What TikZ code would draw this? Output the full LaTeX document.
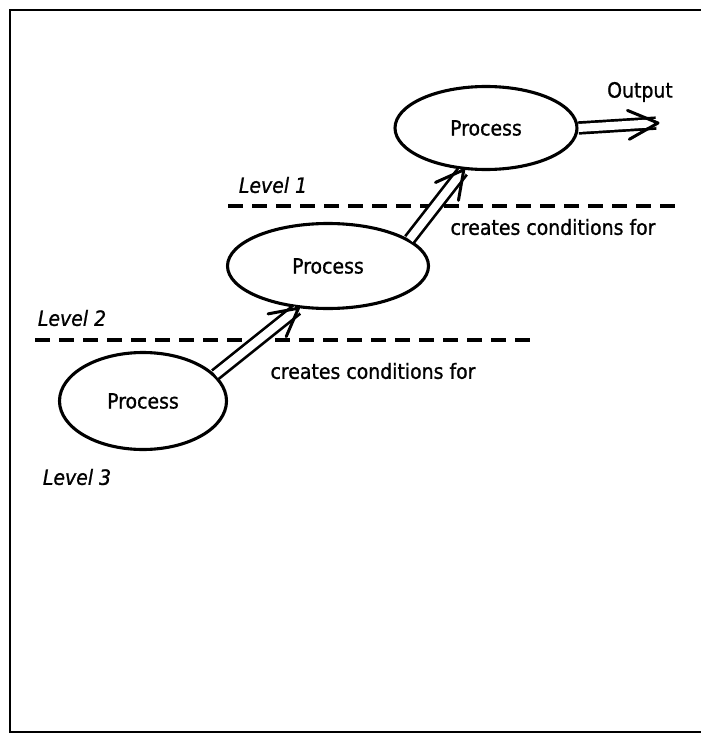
\documentclass[tikz,border=0pt]{standalone}
\usepackage{fontspec}
\setmainfont[FakeBold=1.0]{DejaVu Sans Condensed}
\usetikzlibrary{shapes.geometric,calc}

\tikzset{
  hand/.style={font=\fontsize{21}{24}\selectfont},
  process/.style={ellipse, draw, line width=3.1pt, inner sep=0pt, hand},
  label/.style={inner sep=0pt, hand},
  shaft/.style={double, double distance=8pt, line width=2.7pt, shorten >=2pt},
  barb/.style={line width=3pt, line cap=round, line join=round},
  levelline/.style={line width=3.2pt, dash pattern=on 15pt off 9pt},
  frame/.style={line width=2.2pt}
}

\begin{document}
\begin{tikzpicture}[x=1pt, y=-1pt]
  \useasboundingbox (0,0) rectangle (701,733);

  % outer frame, open on the right
  \draw[frame] (700.5,10) -- (10,10) -- (10,732) -- (700.5,732);

  % the three processes, one per level
  \node[process, minimum width=182pt, minimum height=83pt] (p1) at (486,128) {Process};
  \node[process, minimum width=201pt, minimum height=85pt] (p2) at (328,266) {Process};
  \node[process, minimum width=167pt, minimum height=97pt] (p3) at (143,401) {Process};

  % level boundaries
  \coordinate (d1a) at (228,206);
  \coordinate (d1b) at (680,206);
  \coordinate (d2a) at (35,340);
  \coordinate (d2b) at (535,340);
  \draw[levelline] (d1a) -- (d1b);
  \draw[levelline] (d2a) -- (d2b);

  % labels
  \node[label] (l1) at (273,185) {\itshape Level 1};
  \node[label] (l2) at (72,318) {\itshape Level 2};
  \node[label] (l3) at (77,477) {\itshape Level 3};
  \node[label] (c1) at (553,227) {creates conditions for};
  \node[label] (c2) at (373,371) {creates conditions for};
  \node[label] (outl) at (640,92) {Output};

  % connectors: double shafts with open barbed heads
  \coordinate (out) at (658,123);
  \draw[shaft] (p3.20) -- (p2.235);
  \draw[barb] ($(p2.235)!31pt!28:(p3.20)$) -- (p2.235) -- ($(p2.235)!31pt!-28:(p3.20)$);
  \draw[shaft] (p2.18) -- (p1.242);
  \draw[barb] ($(p1.242)!31pt!28:(p2.18)$) -- (p1.242) -- ($(p1.242)!31pt!-28:(p2.18)$);
  \draw[shaft] (p1.east) -- (out);
  \draw[barb] ($(out)!33pt!26:(p1.east)$) -- (out) -- ($(out)!33pt!-26:(p1.east)$);
\end{tikzpicture}
\end{document}
